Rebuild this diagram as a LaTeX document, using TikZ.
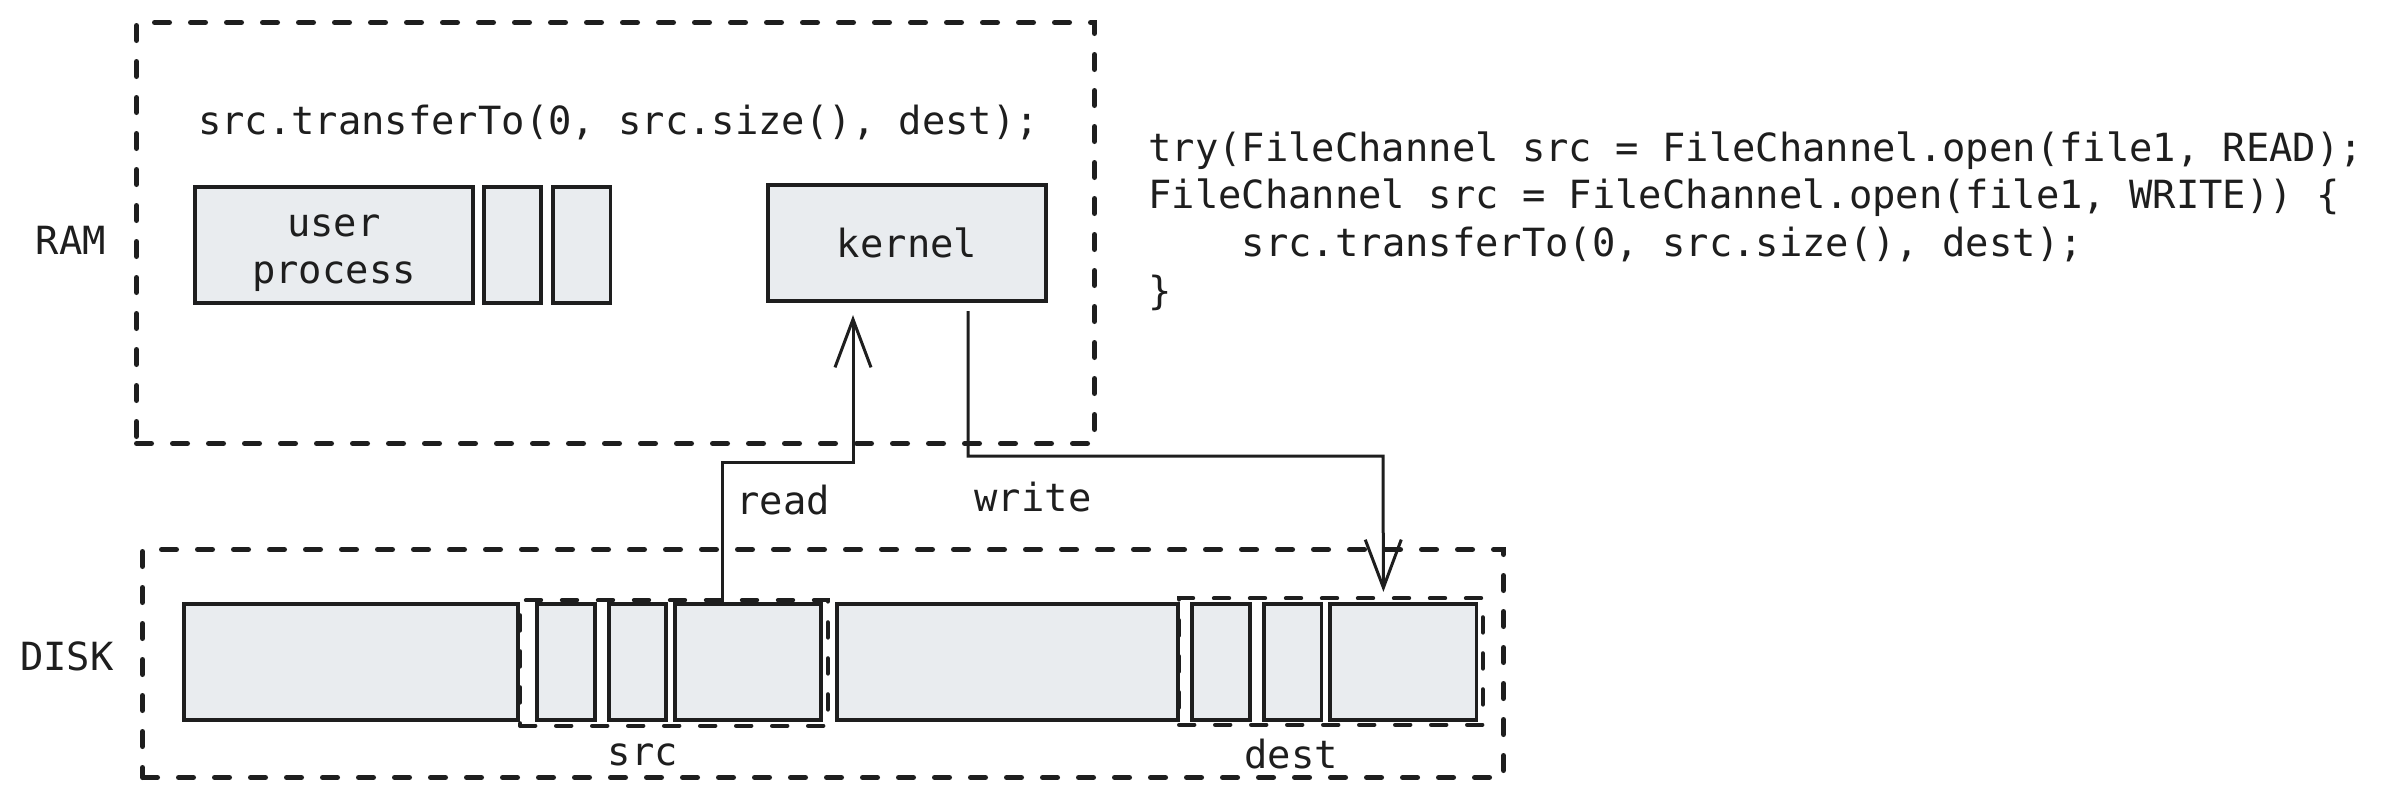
\documentclass[tikz,border=0pt]{standalone}
\usepackage{fontspec}
\usepackage{tikz}
\usetikzlibrary{positioning,arrows.meta}
\newfontfamily\codefont{DejaVu Sans Mono}
\definecolor{ink}{HTML}{1E1E1E}
\definecolor{blkfill}{HTML}{E9ECEF}
\tikzset{
  blk/.style={draw=ink, fill=blkfill, text=ink, line width=1.9pt, minimum height=58.2pt, inner sep=0pt},
  zone/.style={draw=ink, line width=2.5pt, dash pattern=on 7.5pt off 10.5pt, line cap=round, inner sep=0pt},
  grp/.style={zone, line width=2.2pt},
  arr/.style={draw=ink, line width=1.5pt, -{Straight Barb[length=24pt,width=18pt]}},
  lbl/.style={text=ink, inner sep=0pt},
}
\begin{document}
\begin{tikzpicture}[x=0.5pt, y=-0.5pt, font=\codefont\fontsize{19.4}{23.8}\selectfont]
\useasboundingbox (0,0) rectangle (2385,800);

% RAM
\node[zone, minimum width=479pt, minimum height=210.5pt] (ram) at (615.5,233) {};
\node[lbl] (ramlbl) at (71,240) {RAM};
\node[lbl] (call) at (618.5,122) {src.transferTo(0, src.size(), dest);};
\node[blk, minimum width=139.1pt] (usr) at (334,245) {};
\node[lbl, align=center] (usrtxt) at ([yshift=-4pt]usr.center) {user\\process};
\node[blk, minimum width=28.7pt, right=3.5pt of usr] (u2) {};
\node[blk, minimum width=28.7pt, right=4pt of u2] (u3) {};
\node[blk, minimum width=139.1pt] (kernel) at (907,243) {kernel};

% DISK
\node[zone, minimum width=680.5pt, minimum height=114pt] (disk) at (823,663.5) {};
\node[lbl] (disklbl) at (67,656) {DISK};
\node[blk, minimum width=167.1pt] (da) at (351,662) {};
\node[blk, minimum width=29.1pt, right=7.5pt of da] (s1) {};
\node[blk, minimum width=28.7pt, right=5pt of s1] (s2) {};
\node[blk, minimum width=73.1pt, right=2.5pt of s2] (s3) {};
\node[blk, minimum width=170.6pt, right=6pt of s3] (db) {};
\node[blk, minimum width=29.1pt, right=5pt of db] (d1) {};
\node[blk, minimum width=28.7pt, right=5pt of d1] (d2) {};
\node[blk, minimum width=73.1pt, right=2.5pt of d2] (d3) {};

\node[grp, minimum width=153.8pt, minimum height=62.8pt] (srcgrp) at (674,663) {};
\node[grp, minimum width=151.8pt, minimum height=63.3pt] (destgrp) at (1331,661.5) {};
\node[lbl] (srclbl) at (643,755) {src};
\node[lbl] (destlbl) at (1291,754) {dest};

% code
\node[lbl, anchor=west, align=left] (code) at (1148,221) {try(FileChannel src = FileChannel.open(file1, READ);\\FileChannel src = FileChannel.open(file1, WRITE)) \{\\\phantom{0000}src.transferTo(0, src.size(), dest);\\\}};

% read / write
\coordinate (rdbend) at (853,462);
\coordinate (wrbend) at (1383,456);
\draw[arr] ([xshift=24.5pt]s3.north west) |- (rdbend) -- ([xshift=43.5pt,yshift=-6pt]kernel.south west);
\draw[arr] ([xshift=101pt,yshift=-4pt]kernel.south west) |- (wrbend) -- ([xshift=27.5pt,yshift=5pt]d3.north west);
\node[lbl] (rdlbl) at (783,500) {read};
\node[lbl] (wrlbl) at (1033,497) {write};

\end{tikzpicture}
\end{document}
